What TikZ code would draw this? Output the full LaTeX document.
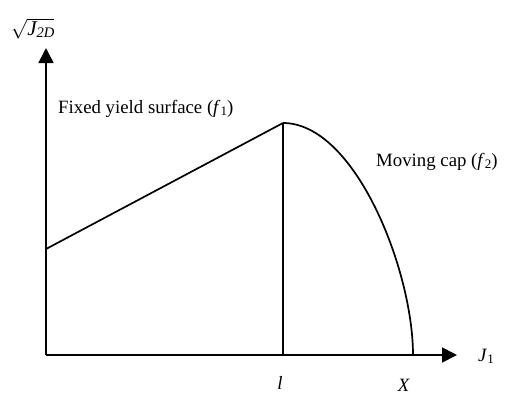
\documentclass[tikz,border=0pt]{standalone}
\usepackage{fontspec}
\setmainfont{Liberation Serif}
\usetikzlibrary{arrows.meta}
\newcommand{\mi}[1]{\textit{#1}}
\newcommand{\msub}[1]{\raisebox{-0.3ex}{\fontsize{13}{15}\selectfont #1}}
\begin{document}
\begin{tikzpicture}[x=1pt,y=-1pt,
  ln/.style={line width=1.7pt},
  axis/.style={line width=1.7pt,-{Triangle[length=15pt,width=15pt]}},
  lbl/.style={font=\fontsize{18.8}{22}\selectfont, inner sep=0pt}]
\useasboundingbox (0,0) rectangle (516,394);
\coordinate (O) at (46,355);
\coordinate (ytop) at (46,48);
\coordinate (xend) at (457,355);
\coordinate (A) at (46,249);
\coordinate (P) at (283,123);
\coordinate (Pb) at (283,355);
\coordinate (Xp) at (413,355);
\draw[axis] (O) -- (ytop);
\draw[axis] (O) -- (xend);
\draw[ln] (A) -- (P);
\draw[ln] (P) -- (Pb);
\draw[ln] (P) .. controls (355,123) and (413,270) .. (Xp);
\node[lbl,anchor=base west,scale=1.12] (ylab) at (11,35) {$\sqrt{\mi{J}\msub{\mi{2D}}}$};
\node[lbl,anchor=base west] (f1) at (58,113) {Fixed yield surface (\mi{f}\msub{1})};
\node[lbl,anchor=base west] (f2) at (376,166) {Moving cap (\mi{f}\msub{2})};
\node[lbl,anchor=base west] (xlab) at (478,361) {\mi{J}\msub{1}};
\node[lbl,anchor=base] (llab) at (280,389) {\mi{l}};
\node[lbl,anchor=base] (Xlab) at (404,391) {\mi{X}};
\end{tikzpicture}
\end{document}
